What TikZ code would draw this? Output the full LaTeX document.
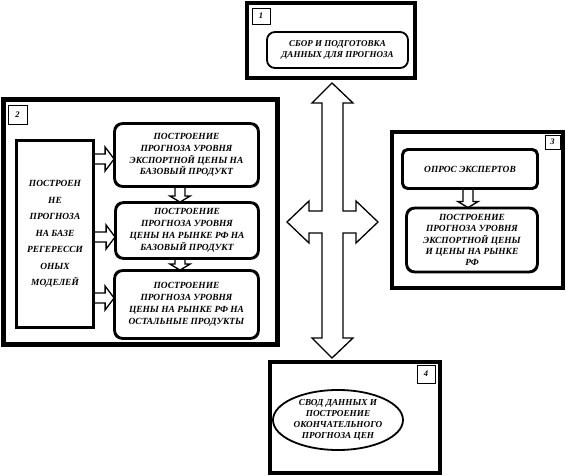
\documentclass[tikz,border=0pt]{standalone}
\usepackage{fontspec}
\setmainfont{Liberation Serif}
\usetikzlibrary{shapes.geometric,calc}
\newcommand\txt{\fontsize{9.4}{11.8}\selectfont\bfseries\itshape}
\newcommand\harr[3]{\draw[blk] let \p1=(#2.east), \p2=(#3.west) in
 (\x1,{-#1pt+5pt}) -- (\x2-9pt,{-#1pt+5pt}) -- (\x2-9pt,{-#1pt+12pt}) -- (\x2,{-#1pt}) -- (\x2-9pt,{-#1pt-12pt}) -- (\x2-9pt,{-#1pt-5pt}) -- (\x1,{-#1pt-5pt}) -- cycle;}
\newcommand\varr[3]{\draw[blk] let \p1=(#2.south), \p2=(#3.north) in
 ({#1pt-5pt},\y1) -- ({#1pt-5pt},\y2+6pt) -- ({#1pt-10pt},\y2+6pt) -- (#1pt,\y2) -- ({#1pt+10pt},\y2+6pt) -- ({#1pt+5pt},\y2+6pt) -- ({#1pt+5pt},\y1) -- cycle;}
\begin{document}
\begin{tikzpicture}[x=1pt,y=-1pt,
  frame/.style={draw, line width=4.5pt, inner sep=0},
  rbox/.style={draw, line width=1.8pt, rounded corners=8pt, align=center, inner sep=0, font=\txt},
  sbox/.style={draw, line width=1.8pt, align=center, inner sep=0, font=\txt},
  lab/.style={draw, line width=0.8pt, fill=white, inner sep=0, font=\fontsize{8.5}{9}\selectfont\bfseries\itshape},
  blk/.style={draw, line width=1.3pt, fill=white, line join=miter}]
\fill[white] (0,0) rectangle (566,476);
\useasboundingbox (0,0) rectangle (566,476);
% frames
\node[frame, minimum width=168, minimum height=75] (f1) at (331,40.5) {};
\node[frame, line width=5pt, minimum width=274, minimum height=245] (f2) at (140,222.5) {};
\node[frame, minimum width=171, minimum height=156] (f3) at (477.5,210) {};
\node[frame, minimum width=170, minimum height=111] (f4) at (355,417.5) {};
% labels
\node[lab, minimum width=18, minimum height=16] (l1) at (261,16) {1};
\node[lab, minimum width=19, minimum height=19] (l2) at (17.5,114.5) {2};
\node[lab, minimum width=15, minimum height=14] (l3) at (552.5,142) {3};
\node[lab, minimum width=18, minimum height=18] (l4) at (426,374) {4};
% cross arrow
\draw[blk] (332,83) -- (353,103) -- (343,103) -- (343,211) -- (356,211) -- (356,201) -- (378,222) -- (356,243) -- (356,233) -- (343,233) -- (343,338) -- (353,338) -- (332,358) -- (312,338) -- (322,338) -- (322,233) -- (309,233) -- (309,243) -- (287,222) -- (309,201) -- (309,211) -- (322,211) -- (322,103) -- (312,103) -- cycle;
% boxes
\path
 node[rbox, minimum width=141, minimum height=36, font=\fontsize{9}{11}\selectfont\bfseries\itshape] (d) at (337.5,50) {СБОР И ПОДГОТОВКА\\ДАННЫХ ДЛЯ ПРОГНОЗА}
 node[sbox, minimum width=76, minimum height=186, font=\fontsize{9.4}{16.5}\selectfont\bfseries\itshape] (L) at (55,234) {ПОСТРОЕН\\НЕ\\ПРОГНОЗА\\НА БАЗЕ\\РЕГЕРЕССИ\\ОНЫХ\\МОДЕЛЕЙ}
 node[rbox, minimum width=143, minimum height=62] (A) at (186.5,155) {ПОСТРОЕНИЕ\\ПРОГНОЗА УРОВНЯ\\ЭКСПОРТНОЙ ЦЕНЫ НА\\БАЗОВЫЙ ПРОДУКТ}
 node[rbox, minimum width=142, minimum height=55] (B) at (187,230.5) {ПОСТРОЕНИЕ\\ПРОГНОЗА УРОВНЯ\\ЦЕНЫ НА РЫНКЕ РФ НА\\БАЗОВЫЙ ПРОДУКТ}
 node[rbox, minimum width=143, minimum height=67] (C) at (186.5,304.5) {ПОСТРОЕНИЕ\\ПРОГНОЗА УРОВНЯ\\ЦЕНЫ НА РЫНКЕ РФ НА\\ОСТАЛЬНЫЕ ПРОДУКТЫ}
 node[rbox, rounded corners=5pt, minimum width=134, minimum height=38] (O) at (470,169) {ОПРОС ЭКСПЕРТОВ}
 node[rbox, minimum width=130, minimum height=63, font=\fontsize{9.4}{11.4}\selectfont\bfseries\itshape] (E) at (472,240) {ПОСТРОЕНИЕ\\ПРОГНОЗА УРОВНЯ\\ЭКСПОРТНОЙ ЦЕНЫ\\И ЦЕНЫ НА РЫНКЕ\\РФ}
 node[ellipse, draw, line width=1.8pt, align=center, inner sep=0, font=\fontsize{9.2}{11}\selectfont\bfseries\itshape, minimum width=130, minimum height=60] (S) at (338,420) {СВОД ДАННЫХ И\\ПОСТРОЕНИЕ\\ОКОНЧАТЕЛЬНОГО\\ПРОГНОЗА ЦЕН};
% small block arrows
\harr{159}{L}{A}
\harr{237}{L}{B}
\harr{298}{L}{C}
\varr{180}{A}{B}
\varr{180}{B}{C}
\varr{468}{O}{E}
% box outlines over the arrow ends
\draw[line width=1.8pt] (L.north west) rectangle (L.south east);
\draw[line width=1.8pt, rounded corners=8pt] (A.north west) rectangle (A.south east);
\draw[line width=1.8pt, rounded corners=8pt] (B.north west) rectangle (B.south east);
\draw[line width=1.8pt, rounded corners=8pt] (C.north west) rectangle (C.south east);
\draw[line width=1.8pt, rounded corners=5pt] (O.north west) rectangle (O.south east);
\draw[line width=1.8pt, rounded corners=8pt] (E.north west) rectangle (E.south east);
\end{tikzpicture}
\end{document}
